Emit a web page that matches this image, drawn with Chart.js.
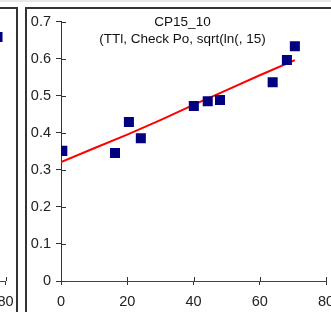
<!DOCTYPE html>
<html lang="en">
<head>
  <meta charset="UTF-8">
  <title>CP15_10</title>
  <script src="https://cdn.jsdelivr.net/npm/chart.js"></script>
  <style>
    body { margin: 0; width: 331px; height: 312px; overflow: hidden; position: relative; background: #fff; }
    .strip { position: absolute; left: 0; top: 0; width: 331px; height: 2px; background: #e8e8e8; }
    .panel { position: absolute; top: 7px; width: 311px; height: 330px; border: 2px solid #333; }
    .panel canvas { position: absolute; left: 0; top: 0; }
  </style>
</head>
<body>
  <div class="strip"></div>
  <div class="panel" id="leftPanel" style="left:-297px"><canvas id="leftChart" width="311" height="320"></canvas></div>
  <div class="panel" id="mainPanel" style="left:25px"><canvas id="mainChart" width="311" height="320"></canvas></div>

  <script>
    // main panel: measured points
    const ttl = [0.4, 16.3, 20.5, 24.1, 40.1, 44.3, 48, 63.9, 68.2, 70.6];
    const checkPo = [0.351, 0.345, 0.429, 0.385, 0.472, 0.485, 0.488, 0.536, 0.596, 0.633];

    // fitted curve
    const fitX = [0, 10, 20, 30, 40, 50, 60, 70.6];
    const fitY = [0.321, 0.358, 0.395, 0.434, 0.475, 0.515, 0.555, 0.596];

    // neighbouring panel, only its right edge is visible
    const leftX = [77.6];
    const leftY = [0.658];

    const titleLines = ['CP15_10', '(TTl, Check Po, sqrt(ln(, 15)'];
    const xTicks = [0, 20, 40, 60, 80];
    const yTicks = [0, 0.1, 0.2, 0.3, 0.4, 0.5, 0.6, 0.7];

    const font = "'Liberation Sans', Arial, sans-serif";
    Chart.defaults.font.family = font;
    Chart.defaults.color = '#222';

    const toPoints = (xs, ys) => xs.map((x, i) => ({ x: x, y: ys[i] }));

    // tick marks that cross the axis (inner half)
    const innerTicks = {
      id: 'innerTicks',
      beforeDatasetsDraw(chart) {
        const { ctx, chartArea, scales } = chart;
        ctx.save();
        ctx.strokeStyle = '#333';
        ctx.lineWidth = 1;
        scales.x.ticks.forEach(t => {
          const px = Math.round(scales.x.getPixelForValue(t.value)) + 0.5;
          ctx.beginPath();
          ctx.moveTo(px, chartArea.bottom);
          ctx.lineTo(px, chartArea.bottom - 4);
          ctx.stroke();
        });
        scales.y.ticks.forEach(t => {
          const py = Math.round(scales.y.getPixelForValue(t.value)) + 0.5;
          ctx.beginPath();
          ctx.moveTo(chartArea.left, py);
          ctx.lineTo(chartArea.left + 5, py);
          ctx.stroke();
        });
        ctx.restore();
      }
    };

    const titleText = {
      id: 'titleText',
      afterDraw(chart, args, opts) {
        if (!opts.lines) return;
        const ctx = chart.ctx;
        ctx.save();
        ctx.fillStyle = '#111';
        ctx.font = '13.5px ' + font;
        ctx.textAlign = 'center';
        ctx.textBaseline = 'alphabetic';
        opts.lines.forEach((line, i) => {
          ctx.fillText(line, chart.width / 2, 17 + i * 17);
        });
        ctx.restore();
      }
    };

    function makeChart(id, datasets, lines, padRight) {
      return new Chart(document.getElementById(id), {
        type: 'scatter',
        data: { datasets: datasets },
        options: {
          responsive: false,
          animation: false,
          devicePixelRatio: 1,
          layout: { padding: { top: 12.5, right: padRight, bottom: 0, left: 0 } },
          plugins: {
            legend: { display: false },
            tooltip: { enabled: false },
            titleText: { lines: lines }
          },
          scales: {
            x: {
              type: 'linear',
              min: 0,
              max: 80,
              afterBuildTicks: s => { s.ticks = xTicks.map(v => ({ value: v })); },
              afterFit: s => { s.height = 48; s.paddingLeft = 0; s.paddingRight = 0; },
              ticks: { font: { size: 14.5 }, padding: 8, color: '#222' },
              grid: { drawOnChartArea: false, tickLength: 4, color: '#333' },
              border: { color: '#444', width: 1 }
            },
            y: {
              type: 'linear',
              min: 0,
              max: 0.7,
              afterBuildTicks: s => { s.ticks = yTicks.map(v => ({ value: v })); },
              afterFit: s => { s.width = 34; s.paddingTop = 0; s.paddingBottom = 0; },
              ticks: {
                font: { size: 14.5 },
                padding: 5,
                color: '#222',
                callback: v => String(Math.round(v * 10) / 10)
              },
              grid: { drawOnChartArea: false, tickLength: 5, color: '#333' },
              border: { color: '#333', width: 1 }
            }
          }
        },
        plugins: [innerTicks, titleText]
      });
    }

    const squareStyle = {
      pointStyle: 'rect',
      pointRadius: 7.1,
      backgroundColor: '#000080',
      borderColor: '#000080',
      borderWidth: 0,
      showLine: false,
      order: 0
    };

    makeChart('leftChart', [
      Object.assign({ data: toPoints(leftX, leftY) }, squareStyle)
    ], null, 10.5);

    makeChart('mainChart', [
      Object.assign({ data: toPoints(ttl, checkPo) }, squareStyle),
      {
        data: toPoints(fitX, fitY),
        showLine: true,
        borderColor: '#ff0000',
        borderWidth: 2,
        pointRadius: 0,
        tension: 0,
        order: 1
      }
    ], titleLines, 12);
  </script>
</body>
</html>
